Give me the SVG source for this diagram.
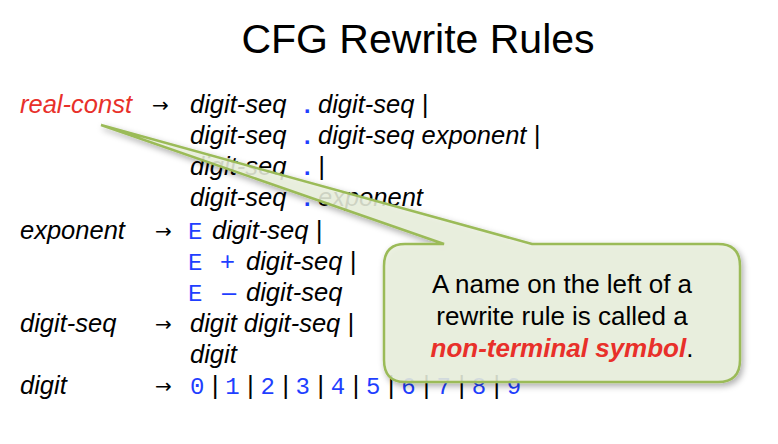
<svg xmlns="http://www.w3.org/2000/svg" width="778" height="444" viewBox="0 0 778 444">
<defs>
<style>
.t{font-family:"Liberation Sans",Arial,sans-serif;font-size:25.5px;font-style:italic;fill:#000}
.a{font-family:"DejaVu Sans",sans-serif;font-size:20px;font-style:normal;fill:#000}
.m{font-family:"Liberation Mono","Courier New",monospace;font-style:normal;fill:#1f3fff;font-size:24px}
.c{font-family:"Liberation Sans",Arial,sans-serif;font-size:26px;fill:#000;text-anchor:middle}
</style>
<filter id="sh" x="-10%" y="-10%" width="130%" height="130%"><feDropShadow dx="2" dy="3" stdDeviation="3" flood-color="#000" flood-opacity="0.35"/></filter>
</defs>
<rect width="778" height="444" fill="#fff"/>
<text x="418" y="53" font-family="Liberation Sans,Arial,sans-serif" font-size="41" text-anchor="middle">CFG Rewrite Rules</text>
<g id="rules">
<text class="t" x="20" y="113" fill="#e8302a" style="fill:#e8302a">real-const</text>
<text class="a" x="152" y="112">→</text>
<text class="t" x="190" y="113">digit-seq <tspan class="m" font-weight="bold" x="300">.</tspan><tspan x="318">digit-seq |</tspan></text>
<text class="t" x="190" y="144">digit-seq <tspan class="m" font-weight="bold" x="300">.</tspan><tspan x="318">digit-seq exponent |</tspan></text>
<text class="t" x="190" y="175">digit-seq <tspan class="m" font-weight="bold" x="300">.</tspan><tspan x="318">|</tspan></text>
<text class="t" x="190" y="206">digit-seq <tspan class="m" font-weight="bold" x="300">.</tspan><tspan x="318">exponent</tspan></text>
<text class="t" x="20" y="239">exponent</text>
<text class="a" x="155" y="238">→</text>
<text class="t" x="188" y="239"><tspan class="m">E</tspan><tspan x="212">digit-seq |</tspan></text>
<text class="t" x="188" y="270"><tspan class="m">E</tspan><tspan x="220" font-style="normal" style="fill:#1f3fff">+</tspan><tspan x="246">digit-seq |</tspan></text>
<text class="t" x="188" y="301"><tspan class="m">E</tspan><tspan x="222" font-style="normal" style="fill:#1f3fff">–</tspan><tspan x="246">digit-seq</tspan></text>
<text class="t" x="20" y="332">digit-seq</text>
<text class="a" x="155" y="331">→</text>
<text class="t" x="190" y="332">digit digit-seq |</text>
<text class="t" x="190" y="363">digit</text>
<text class="t" x="20" y="394">digit</text>
<text class="a" x="155" y="393">→</text>
<text class="t" x="190" y="394"><tspan class="m">0</tspan> | <tspan class="m">1</tspan> | <tspan class="m">2</tspan> | <tspan class="m">3</tspan> | <tspan class="m">4</tspan> | <tspan class="m">5</tspan> | <tspan class="m">6</tspan> | <tspan class="m">7</tspan> | <tspan class="m">8</tspan> | <tspan class="m">9</tspan></text>
</g>
<g id="callout">
<path d="M405,244 H444 L101,125 L532,244 H718 Q740,244 740,266 V360 Q740,382 718,382 H405 Q384,382 384,360 V266 Q384,244 405,244 Z" fill="#ebf1de" fill-opacity="0.85" stroke="#9bbb59" stroke-width="2.5" filter="url(#sh)"/>
<text class="c" x="562" y="293">A name on the left of a</text>
<text class="c" x="562" y="325">rewrite rule is called a</text>
<text class="c" x="562" y="357"><tspan font-weight="bold" font-style="italic" style="fill:#e8302a">non-terminal symbol</tspan>.</text>
</g>
</svg>
